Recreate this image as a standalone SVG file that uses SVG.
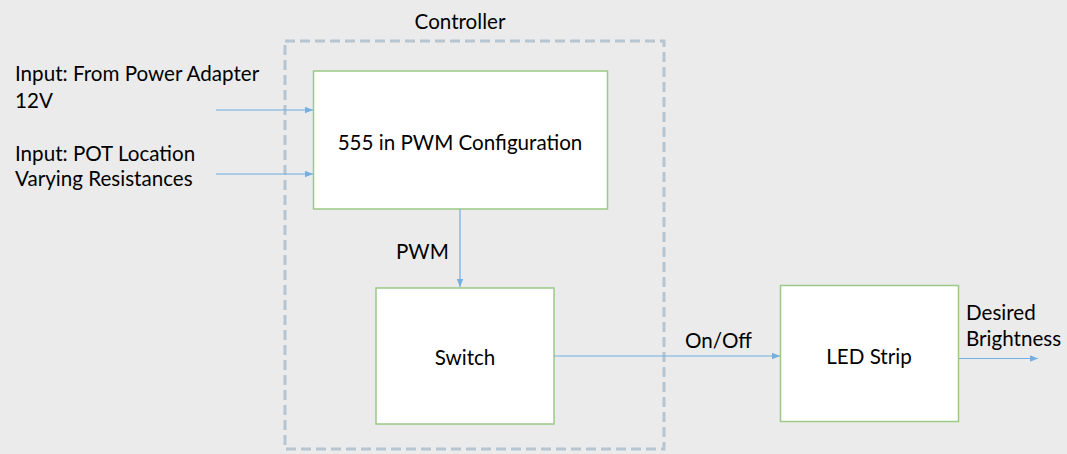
<svg xmlns="http://www.w3.org/2000/svg" width="1067" height="454" viewBox="0 0 1067 454">
<style>
text{font-family:Lato,"Open Sans",sans-serif;font-size:20.6px;fill:#000}
.box{fill:#fff;stroke:#9cc985;stroke-width:1.5}
.ln{stroke:#75aee0;stroke-width:1.2;fill:none;marker-end:url(#ah)}
.c{text-anchor:middle}
</style>
<defs>
<marker id="ah" viewBox="0 0 10 10" refX="10" refY="5" markerWidth="8" markerHeight="8" markerUnits="userSpaceOnUse" orient="auto">
<path d="M0,1 L10,5 L0,9 z" fill="#75aee0"/>
</marker>
</defs>
<rect width="1067" height="454" fill="#ebebeb"/>
<g id="controller">
<rect x="285" y="41" width="379" height="408" fill="none" stroke="#b5c5d2" stroke-width="3" stroke-dasharray="10 5"/>
<text class="c" x="460" y="29">Controller</text>
</g>
<g id="pwm555">
<rect class="box" x="313.5" y="71" width="294" height="138"/>
<text class="c" x="460" y="150">555 in PWM Configuration</text>
</g>
<g id="switch">
<rect class="box" x="376" y="288" width="178" height="136"/>
<text class="c" x="465" y="365">Switch</text>
</g>
<g id="led">
<rect class="box" x="780.5" y="285.5" width="178" height="136"/>
<text class="c" x="869" y="364">LED Strip</text>
</g>
<g id="labels">
<text x="15" y="81">Input: From Power Adapter</text>
<text x="15" y="108">12V</text>
<text x="15" y="161">Input: POT Location</text>
<text x="15" y="186">Varying Resistances</text>
<text x="396" y="259">PWM</text>
<text x="685" y="348">On/Off</text>
<text x="966" y="320">Desired</text>
<text x="966" y="346">Brightness</text>
</g>
<g id="connectors">
<line class="ln" x1="216" y1="110" x2="313" y2="110"/>
<line class="ln" x1="216" y1="174" x2="313" y2="174"/>
<line class="ln" x1="460" y1="209" x2="460" y2="287"/>
<line class="ln" x1="554" y1="356" x2="780" y2="356"/>
<line class="ln" x1="959" y1="358.5" x2="1038" y2="358.5"/>
</g>
</svg>
